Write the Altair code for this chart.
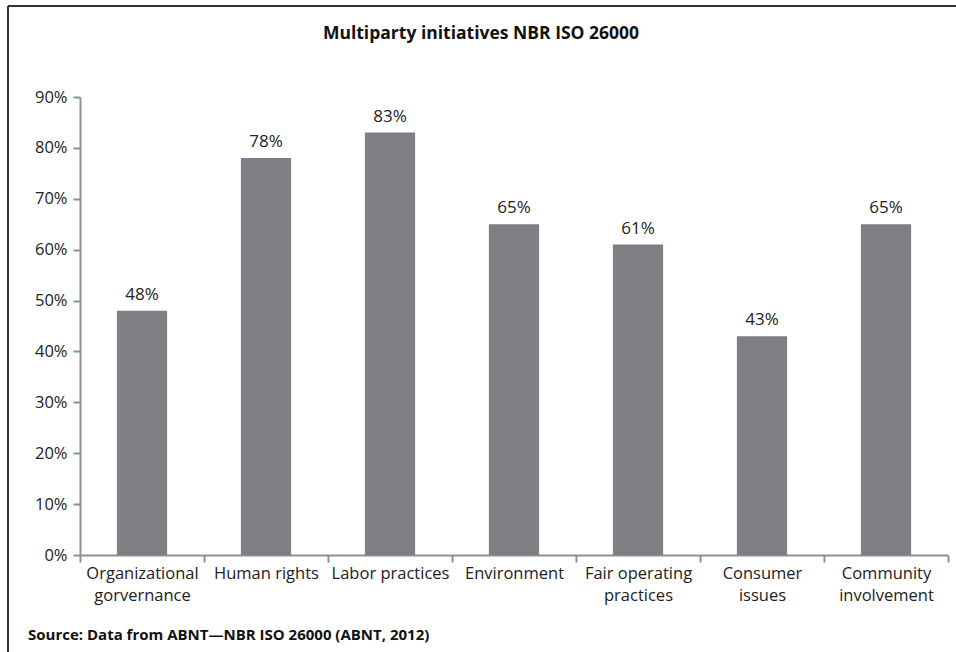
import altair as alt
import pandas as pd

categories = ["Organizational|gorvernance", "Human rights", "Labor practices", "Environment",
              "Fair operating|practices", "Consumer|issues", "Community|involvement"]
values = [0.48, 0.78, 0.83, 0.65, 0.61, 0.43, 0.65]
y_ticks = [0, 0.1, 0.2, 0.3, 0.4, 0.5, 0.6, 0.7, 0.8, 0.9]

df = pd.DataFrame({"cat": categories, "val": values})

W, H = 868, 458
FONT = "Open Sans"
AXIS_COL = "#8f8f8f"

x_enc = alt.X("cat:N", sort=categories,
              scale=alt.Scale(paddingInner=0, paddingOuter=0),
              axis=alt.Axis(title=None, labelAngle=0, tickBand="extent", tickSize=7,
                            domainColor=AXIS_COL, tickColor=AXIS_COL, domainWidth=2, tickWidth=2,
                            labelExpr="isValid(datum.value) ? split(datum.value, '|') : ''",
                            labelFont=FONT, labelFontSize=16.5,
                            labelColor="#222", labelPadding=3, labelLineHeight=22,
                            labelBaseline="top"))
y_enc = alt.Y("val:Q", scale=alt.Scale(domain=[0, 0.9], nice=False),
              axis=alt.Axis(title=None, values=y_ticks, format=".0%", grid=False, tickSize=7,
                            domainColor=AXIS_COL, tickColor=AXIS_COL, domainWidth=2, tickWidth=2,
                            labelFont=FONT, labelFontSize=16.5, labelColor="#222", labelPadding=6))

base = alt.Chart(df)
bars = base.mark_bar(color="#7e7f82", width=alt.RelativeBandSize(0.405)).encode(x=x_enc, y=y_enc)
labels = base.mark_text(font=FONT, fontSize=17, color="#222", dy=-16).encode(
    x=alt.X("cat:N", sort=categories), y="val:Q", text=alt.Text("val:Q", format=".0%"))

title_df = pd.DataFrame({"t": ["Multiparty initiatives NBR ISO 26000"]})
title = alt.Chart(title_df).mark_text(font=FONT, fontSize=17.5, fontWeight="bold", color="#111",
                                      align="center", baseline="alphabetic").encode(
    x=alt.value(481 - 80), y=alt.value(39 - 97), text="t:N")

src_df = pd.DataFrame({"t": ["Source: Data from ABNT\u2014NBR ISO 26000 (ABNT, 2012)"]})
source = alt.Chart(src_df).mark_text(font=FONT, fontSize=15, fontWeight="bold", color="#111",
                                     align="left", baseline="alphabetic").encode(
    x=alt.value(28 - 80), y=alt.value(640 - 97), text="t:N")

frame_top = alt.Chart(title_df).mark_rule(color="#333", strokeWidth=2).encode(
    x=alt.value(8 - 80), x2=alt.value(956 - 80), y=alt.value(6 - 97))
frame_left = alt.Chart(title_df).mark_rule(color="#333", strokeWidth=2).encode(
    x=alt.value(8 - 80), y=alt.value(6 - 97), y2=alt.value(652 - 97))

chart = alt.layer(bars, labels, title, source, frame_top, frame_left).properties(
    width=W, height=H,
    background="white",
    autosize=alt.AutoSizeParams(type="none"),
    padding={"left": 80, "top": 97, "right": 8, "bottom": 97},
).configure_view(strokeWidth=0)

chart.save("out.html", embed_options={"renderer": "svg", "actions": False})
